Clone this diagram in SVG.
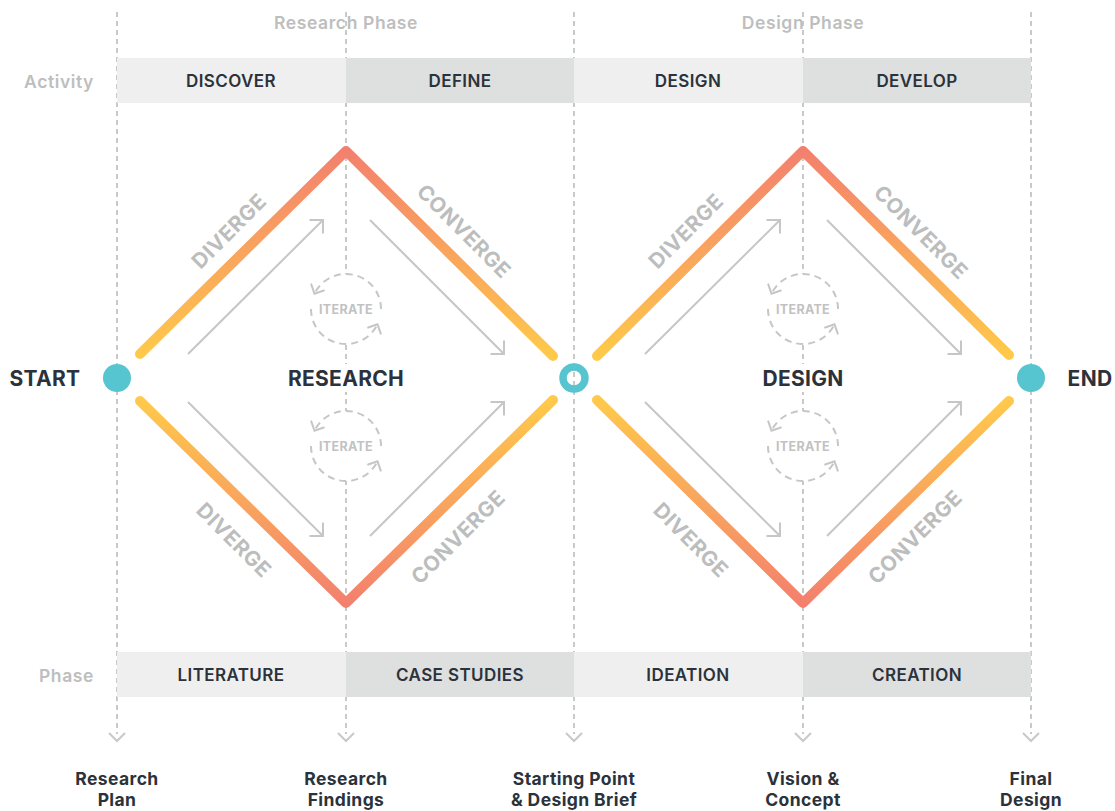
<svg xmlns="http://www.w3.org/2000/svg" width="1115" height="811" viewBox="0 0 1115 811">
  <style>
    .guide { stroke: #c9c9c9; stroke-width: 2; stroke-dasharray: 5 4; fill: none; }
    .chev { stroke: #c9c9c9; stroke-width: 2; fill: none; }
    .bandA { fill: #efefef; }
    .bandB { fill: #dedfdf; }
    .band-t { font-family: Inter, "Liberation Sans", sans-serif; font-weight: 600; font-size: 17px; letter-spacing: 0.4px; fill: #2b323b; text-anchor: middle; }
    .hdr { font-family: Inter, "Liberation Sans", sans-serif; font-weight: 600; font-size: 17.5px; letter-spacing: 0.6px; fill: #bdbebe; text-anchor: middle; }
    .side { font-family: Inter, "Liberation Sans", sans-serif; font-weight: 600; font-size: 17.5px; letter-spacing: 0.6px; fill: #bdbebe; text-anchor: end; }
    .big { font-family: Inter, "Liberation Sans", sans-serif; font-weight: 700; font-size: 21px; letter-spacing: 0.3px; fill: #2b323b; text-anchor: middle; }
    .diag { font-family: Inter, "Liberation Sans", sans-serif; font-weight: 700; font-size: 21px; fill: #bcbdbd; text-anchor: middle; dominant-baseline: central; letter-spacing: 0.5px; }
    .mile { font-family: Inter, "Liberation Sans", sans-serif; font-weight: 700; font-size: 17.5px; letter-spacing: 0.4px; fill: #2b323b; text-anchor: middle; }
    .flow { stroke: #c6c6c6; stroke-width: 2; fill: none; marker-end: url(#open); }
    .loop { stroke: #c6c6c6; stroke-width: 2; fill: none; stroke-dasharray: 7 5; marker-end: url(#openS); }
    .loop-bg { fill: #ffffff; }
    .it { font-family: Inter, "Liberation Sans", sans-serif; font-weight: 700; font-size: 12.5px; letter-spacing: 0.3px; fill: #c2c2c2; text-anchor: middle; }
    .dia-up { stroke: url(#gUp); stroke-width: 10; stroke-linecap: round; stroke-linejoin: round; fill: none; }
    .dia-dn { stroke: url(#gDn); stroke-width: 10; stroke-linecap: round; stroke-linejoin: round; fill: none; }
    .node { fill: #57c5cf; }
  </style>
  <defs>
    <marker id="open" markerUnits="userSpaceOnUse" markerWidth="24" markerHeight="24" viewBox="-12 -12 24 24" refX="0" refY="0" orient="auto">
      <path d="M-9,-9 L0,0 L-9,9" stroke="#c6c6c6" stroke-width="2" fill="none" stroke-linecap="round"/>
    </marker>
    <marker id="openS" markerUnits="userSpaceOnUse" markerWidth="24" markerHeight="24" viewBox="-12 -12 24 24" refX="0" refY="0" orient="auto">
      <path d="M-7,-7 L0,0 L-7,7" stroke="#c6c6c6" stroke-width="2" fill="none" stroke-linecap="round"/>
    </marker>
    <linearGradient id="gUp" gradientUnits="userSpaceOnUse" x1="0" y1="150" x2="0" y2="356">
      <stop offset="0" stop-color="#f3806e"/>
      <stop offset="0.5" stop-color="#f9a55e"/>
      <stop offset="1" stop-color="#ffc94a"/>
    </linearGradient>
    <linearGradient id="gDn" gradientUnits="userSpaceOnUse" x1="0" y1="604" x2="0" y2="400">
      <stop offset="0" stop-color="#f3806e"/>
      <stop offset="0.5" stop-color="#f9a55e"/>
      <stop offset="1" stop-color="#ffc94a"/>
    </linearGradient>
  </defs>

  <rect width="1115" height="811" fill="#ffffff"/>

  <!-- vertical guide lines with end chevrons -->
  <g id="guides">
    <path class="guide" d="M117,12 V734 M346,12 V734 M574,12 V734 M803,12 V734 M1031,12 V734"/>
    <path class="chev" d="M109,733 L117,741 L125,733 M338,733 L346,741 L354,733 M566,733 L574,741 L582,733 M795,733 L803,741 L811,733 M1023,733 L1031,741 L1039,733"/>
  </g>

  <!-- phase headers -->
  <g id="headers">
    <text class="hdr" x="346" y="29">Research Phase</text>
    <text class="hdr" x="803" y="29">Design Phase</text>
  </g>

  <!-- activity row -->
  <g id="activity-row">
    <text class="side" x="94" y="88">Activity</text>
    <g id="discover"><rect class="bandA" x="117" y="58" width="229" height="45"/><text class="band-t" x="231" y="87">DISCOVER</text></g>
    <g id="define"><rect class="bandB" x="346" y="58" width="228" height="45"/><text class="band-t" x="460" y="87">DEFINE</text></g>
    <g id="design-act"><rect class="bandA" x="574" y="58" width="229" height="45"/><text class="band-t" x="688" y="87">DESIGN</text></g>
    <g id="develop"><rect class="bandB" x="803" y="58" width="228" height="45"/><text class="band-t" x="917" y="87">DEVELOP</text></g>
  </g>

  <!-- phase row -->
  <g id="phase-row">
    <text class="side" x="94" y="682">Phase</text>
    <g id="literature"><rect class="bandA" x="117" y="652" width="229" height="45"/><text class="band-t" x="231" y="681">LITERATURE</text></g>
    <g id="case-studies"><rect class="bandB" x="346" y="652" width="228" height="45"/><text class="band-t" x="460" y="681">CASE STUDIES</text></g>
    <g id="ideation"><rect class="bandA" x="574" y="652" width="229" height="45"/><text class="band-t" x="688" y="681">IDEATION</text></g>
    <g id="creation"><rect class="bandB" x="803" y="652" width="228" height="45"/><text class="band-t" x="917" y="681">CREATION</text></g>
  </g>

  <!-- double diamond outline -->
  <g id="diamonds">
    <polyline class="dia-up" points="140,354 346,151 553,356"/>
    <polyline class="dia-dn" points="140,401 346,603 553,400"/>
    <polyline class="dia-up" points="597,356 803,151 1009,355"/>
    <polyline class="dia-dn" points="597,400 803,603 1009,401"/>
  </g>

  <!-- direction labels -->
  <g id="direction-labels">
    <text class="diag" transform="translate(229,231) rotate(-45)">DIVERGE</text>
    <text class="diag" transform="translate(464,231) rotate(45)">CONVERGE</text>
    <text class="diag" transform="translate(234,540) rotate(45)">DIVERGE</text>
    <text class="diag" transform="translate(458,537) rotate(-45)">CONVERGE</text>
    <text class="diag" transform="translate(686,231) rotate(-45)">DIVERGE</text>
    <text class="diag" transform="translate(921,232) rotate(45)">CONVERGE</text>
    <text class="diag" transform="translate(691,540) rotate(45)">DIVERGE</text>
    <text class="diag" transform="translate(915,537) rotate(-45)">CONVERGE</text>
  </g>

  <!-- flow connectors -->
  <g id="connectors">
    <line class="flow" x1="188" y1="354" x2="323" y2="220"/>
    <line class="flow" x1="370" y1="220" x2="504" y2="354"/>
    <line class="flow" x1="188" y1="402" x2="323" y2="536"/>
    <line class="flow" x1="370" y1="536" x2="504" y2="402"/>
    <line class="flow" x1="645" y1="354" x2="780" y2="220"/>
    <line class="flow" x1="827" y1="220" x2="961" y2="354"/>
    <line class="flow" x1="645" y1="402" x2="780" y2="536"/>
    <line class="flow" x1="827" y1="536" x2="961" y2="402"/>
  </g>

  <!-- iterate loops -->
  <g id="iterate-1" transform="translate(346,309)">
    <circle class="loop-bg" r="35"/>
    <path class="loop" d="M35,0 A35,35 0 0 0 -31.5,-15.3"/>
    <path class="loop" d="M-35,0 A35,35 0 0 0 31.5,15.3"/>
    <text class="it" x="0" y="4.5">ITERATE</text>
  </g>
  <g id="iterate-2" transform="translate(346,446)">
    <circle class="loop-bg" r="35"/>
    <path class="loop" d="M35,0 A35,35 0 0 0 -31.5,-15.3"/>
    <path class="loop" d="M-35,0 A35,35 0 0 0 31.5,15.3"/>
    <text class="it" x="0" y="4.5">ITERATE</text>
  </g>
  <g id="iterate-3" transform="translate(803,309)">
    <circle class="loop-bg" r="35"/>
    <path class="loop" d="M35,0 A35,35 0 0 0 -31.5,-15.3"/>
    <path class="loop" d="M-35,0 A35,35 0 0 0 31.5,15.3"/>
    <text class="it" x="0" y="4.5">ITERATE</text>
  </g>
  <g id="iterate-4" transform="translate(803,446)">
    <circle class="loop-bg" r="35"/>
    <path class="loop" d="M35,0 A35,35 0 0 0 -31.5,-15.3"/>
    <path class="loop" d="M-35,0 A35,35 0 0 0 31.5,15.3"/>
    <text class="it" x="0" y="4.5">ITERATE</text>
  </g>

  <!-- milestone nodes -->
  <g id="start">
    <circle class="node" cx="117" cy="378" r="14"/>
    <text class="big" x="45" y="385.5">START</text>
  </g>
  <g id="research">
    <rect fill="#ffffff" x="284" y="364" width="124" height="28"/>
    <text class="big" x="346" y="385.5">RESEARCH</text>
  </g>
  <g id="midpoint">
    <circle cx="574" cy="378" r="11" fill="none" stroke="#57c5cf" stroke-width="7.5"/>
  </g>
  <g id="design">
    <rect fill="#ffffff" x="756" y="364" width="94" height="28"/>
    <text class="big" x="803" y="385.5">DESIGN</text>
  </g>
  <g id="end">
    <circle class="node" cx="1031" cy="378" r="14"/>
    <text class="big" x="1090" y="385.5">END</text>
  </g>

  <!-- deliverables -->
  <g id="deliverables">
    <text class="mile" x="117" y="785">Research</text>
    <text class="mile" x="117" y="806">Plan</text>
    <text class="mile" x="346" y="785">Research</text>
    <text class="mile" x="346" y="806">Findings</text>
    <text class="mile" x="574" y="785">Starting Point</text>
    <text class="mile" x="574" y="806">&amp; Design Brief</text>
    <text class="mile" x="803" y="785">Vision &amp;</text>
    <text class="mile" x="803" y="806">Concept</text>
    <text class="mile" x="1031" y="785">Final</text>
    <text class="mile" x="1031" y="806">Design</text>
  </g>
</svg>
